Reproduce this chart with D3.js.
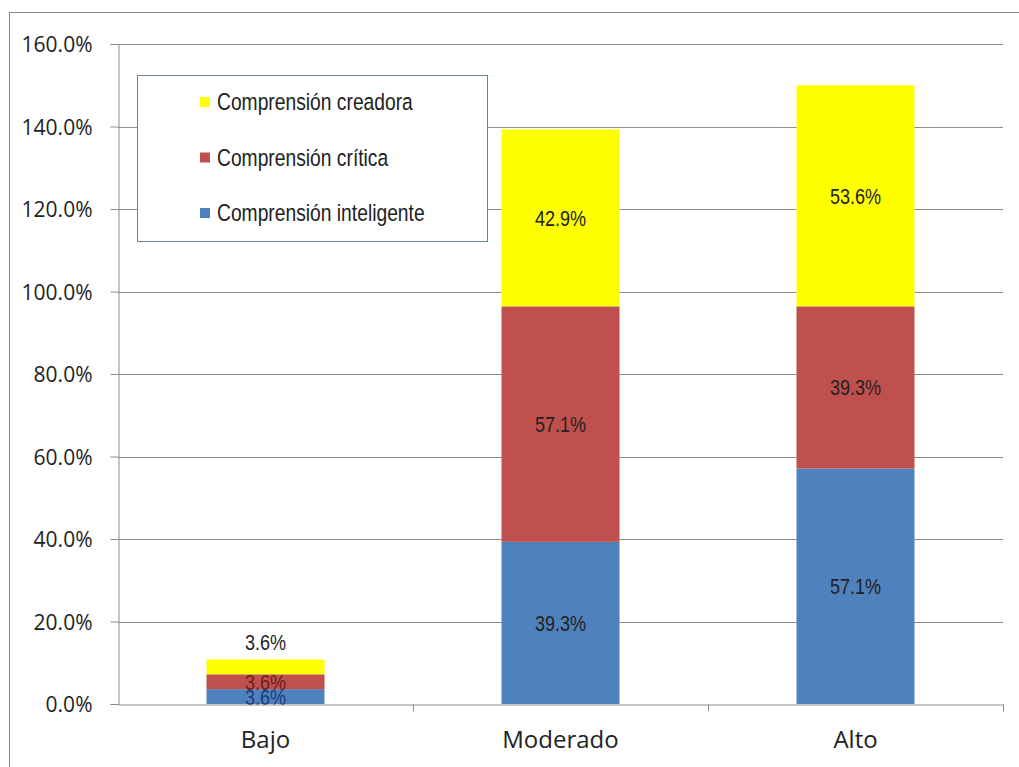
<!DOCTYPE html>
<html><head><meta charset="utf-8">
<script src="https://cdn.jsdelivr.net/npm/d3@7"></script>
<style>
body{margin:0;background:#fff;}
svg{display:block;}
.narrow{font-family:"Liberation Sans",Arial,sans-serif;}
.axisf{font-family:"Open Sans","Lato",sans-serif;}
</style></head>
<body>
<svg id="chart" width="1019" height="767"></svg>
<script>
const categories = ["Bajo", "Moderado", "Alto"];
const seriesNames = ["Comprensión inteligente", "Comprensión crítica", "Comprensión creadora"];
const inteligente = [3.6, 39.3, 57.1];
const critica = [3.6, 57.1, 39.3];
const creadora = [3.6, 42.9, 53.6];
const yTicks = [0, 20, 40, 60, 80, 100, 120, 140, 160];
const colors = ["#4F81BD", "#C0504D", "#FFFF00"];

const svg = d3.select("#chart");
const m = {left:118, right:1003, top:44, bottom:704};
const NARROW = 0.82;

// outer frame
svg.append("rect").attr("x",9.5).attr("y",12.5).attr("width",1030).attr("height",800)
  .attr("fill","none").attr("stroke","#8a8a8a").attr("stroke-width",1);

const x = d3.scaleBand().domain(categories).range([m.left, m.right]).paddingInner(0).paddingOuter(0);
const y = d3.scaleLinear().domain([0,160]).range([m.bottom, m.top]);

// gridlines
svg.append("g").selectAll("line").data(yTicks.filter(d=>d>0)).join("line")
  .attr("x1",m.left).attr("x2",m.right)
  .attr("y1",d=>Math.round(y(d))+0.5).attr("y2",d=>Math.round(y(d))+0.5)
  .attr("stroke","#8c8c8c").attr("stroke-width",1);

// stacked data
const rows = categories.map((c,i)=>({cat:c, s0:inteligente[i], s1:critica[i], s2:creadora[i]}));
const stack = d3.stack().keys(["s0","s1","s2"])(rows);
const bw = 118;

const g = svg.append("g");
stack.forEach((layer,li)=>{
  g.selectAll(null).data(layer).join("rect")
    .attr("x",d=>x(d.data.cat)+x.bandwidth()/2-bw/2)
    .attr("width",bw)
    .attr("y",d=>y(d[1]))
    .attr("height",d=>y(d[0])-y(d[1]))
    .attr("fill",colors[li]);
});

// y axis
const yAxis = d3.axisLeft(y).tickValues(yTicks).tickFormat(d=>d3.format(".1f")(d)+"%").tickSize(8).tickPadding(18);
const ya = svg.append("g").attr("transform",`translate(${m.left+0.5},0)`).call(yAxis);
ya.select(".domain").attr("stroke","#8c8c8c");
ya.selectAll(".tick line").attr("stroke","#8c8c8c");
ya.selectAll(".tick text").attr("class","axisf").attr("font-size",21).attr("fill","#222").attr("dy","0.36em");

// x axis
const xa = svg.append("g").attr("transform",`translate(0,${m.bottom+0.5})`)
  .call(d3.axisBottom(x).tickSize(0).tickPadding(0));
xa.select(".domain").attr("stroke","#8c8c8c");
xa.selectAll(".tick text").attr("class","axisf").attr("font-size",24).attr("fill","#222")
  .attr("y",43).attr("dy",0);
xa.append("g").selectAll("line").data(categories).join("line")
  .attr("x1",d=>x(d)+x.bandwidth()+0.5).attr("x2",d=>x(d)+x.bandwidth()+0.5)
  .attr("y1",0).attr("y2",7).attr("stroke","#8c8c8c");

// data labels (narrow-looking text)
stack.forEach((layer,li)=>{
  g.selectAll(null).data(layer).join("text")
    .attr("class","narrow")
    .attr("transform",d=>{
      const h = y(d[0])-y(d[1]);
      const cx = x(d.data.cat)+x.bandwidth()/2;
      const cy = (li===2 && h<20) ? y(d[1]) - 17 : (y(d[0])+y(d[1]))/2;
      return `translate(${cx},${cy}) scale(${NARROW},1)`;
    })
    .attr("dy","0.36em")
    .attr("text-anchor","middle")
    .attr("font-size",22)
    .attr("fill", d=>{
      const small = y(d[0])-y(d[1])<20;
      if (small && li===0) return "#1f3b7a";
      if (small && li===1) return "#6b1f1f";
      return "#222";
    })
    .text(d=>d3.format(".1f")(d[1]-d[0])+"%");
});

// legend
const lg = svg.append("g");
lg.append("rect").attr("x",137.5).attr("y",75.5).attr("width",350).attr("height",166)
  .attr("fill","#fff").attr("stroke","#5f8a8f").attr("stroke-width",1);
const legendItems = [2,1,0];
legendItems.forEach((si,i)=>{
  const cy = 102 + i*55.5;
  lg.append("rect").attr("x",200).attr("y",cy-5).attr("width",10).attr("height",10).attr("fill",colors[si]);
  lg.append("text").attr("class","narrow")
    .attr("transform",`translate(217,${cy}) scale(${NARROW},1)`)
    .attr("dy","0.36em")
    .attr("font-size",23.5).attr("fill","#222").text(seriesNames[si]);
});
</script>
</body></html>
